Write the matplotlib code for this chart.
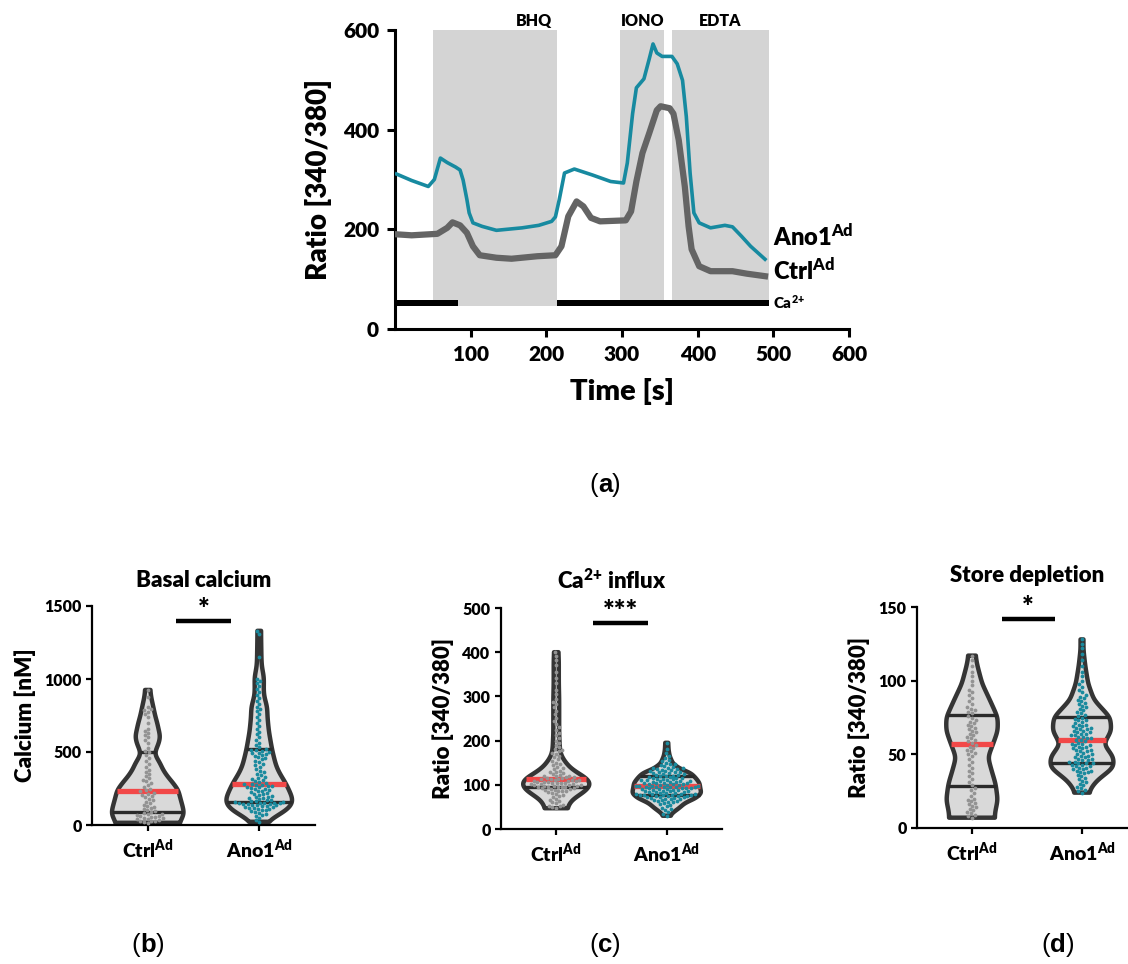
import numpy as np
import matplotlib
matplotlib.use("Agg")
import matplotlib.pyplot as plt

WEIGHT = 'heavy'
plt.rcParams['font.family'] = ['Lato', 'DejaVu Sans']
plt.rcParams['font.weight'] = WEIGHT
plt.rcParams['axes.titleweight'] = WEIGHT
plt.rcParams['axes.labelweight'] = WEIGHT
plt.rcParams['mathtext.default'] = 'regular'

FIG_W, FIG_H = 1128, 964

# ---------------- (a) ratio traces ----------------
time_ano1 = [2, 22, 44, 52, 60, 69, 80, 86, 90, 95, 98, 103, 115, 134, 168, 190, 207, 212,
             217, 224, 237, 261, 285, 302, 307, 314, 319, 329, 336, 341, 346, 353, 366,
             373, 380, 385, 390, 395, 402, 417, 436, 446, 458, 470, 489]
ratio_ano1 = [311, 298, 286, 300, 343, 334, 325, 319, 299, 260, 233, 213, 206, 198, 203, 208,
              216, 225, 259, 313, 321, 309, 296, 293, 333, 432, 484, 502, 542, 572, 554, 547,
              547, 532, 499, 426, 313, 233, 213, 203, 208, 205, 186, 166, 140]
time_ctrl = [2, 22, 56, 69, 76, 86, 95, 103, 112, 134, 154, 188, 212, 220, 229, 240, 249,
             259, 271, 305, 312, 319, 327, 336, 346, 351, 363, 368, 375, 383, 388, 392, 402,
             417, 446, 465, 489]
ratio_ctrl = [190, 188, 191, 203, 214, 208, 193, 166, 148, 143, 141, 146, 148, 166, 226, 256,
              246, 223, 216, 218, 236, 296, 353, 393, 439, 447, 443, 432, 379, 286, 206, 160,
              126, 116, 116, 111, 106]

treatments = ['BHQ', 'IONO', 'EDTA']
treatment_start = [50, 298, 366]
treatment_end = [214, 356, 494]
calcium_start = [2, 214]
calcium_end = [83, 494]

# ---------------- (b)-(d) single-cell values ----------------
groups = ['Ctrl', 'Ano1']

basal_ctrl = [15, 20, 25, 28, 30, 35, 38, 42, 45, 50, 52, 55, 60, 64, 68, 72, 76, 80,
              88, 95, 100, 108, 115, 122, 130, 140, 150, 160, 170, 180, 190, 200, 208, 215, 222, 230,
              240, 250, 262, 275, 288, 300, 310, 320, 335, 350, 365, 380, 400, 420, 440, 460, 480, 498,
              505, 530, 560, 580, 600, 615, 630, 645, 660, 700, 740, 760, 775, 785, 795, 810, 880, 925]
basal_ano1 = [22, 35, 50, 62, 70, 78, 85, 90, 95, 100, 105, 110, 113, 116, 119, 122, 125, 128,
              131, 134, 137, 140, 142, 144, 146, 148, 150, 152, 153, 154,
              157, 160, 163, 166, 170, 174, 178, 182, 186, 190, 195, 200, 205, 210, 215, 220, 225,
              230, 235, 240, 245, 250, 254, 258, 262, 266, 270, 273, 276, 278,
              282, 288, 294, 300, 307, 314, 320, 330, 340, 350, 360, 372, 385, 398, 410, 420, 430,
              440, 450, 458, 465, 472, 478, 484, 490, 496, 502, 508, 512, 516,
              522, 535, 550, 565, 580, 600, 620, 640, 660, 680, 700, 720, 740, 760, 780, 795, 810,
              830, 850, 870, 890, 910, 930, 950, 970, 985, 1000, 1150, 1310, 1330]

influx_ctrl = [47, 49, 51, 53, 55, 58, 60, 63, 66, 69, 72, 75, 77, 79, 81, 83, 85, 86, 87, 88,
               89, 90, 91, 92, 93, 94, 94,
               95, 96, 96, 97, 98, 98, 99, 100, 100, 101, 102, 102, 103, 104, 104, 105, 106, 106,
               107, 108, 108, 109, 110, 110, 111, 112, 112, 113,
               115, 116, 117, 118, 119, 120, 121, 122, 124, 126, 128, 130, 132, 135, 138, 141, 144,
               147, 150, 154, 158, 162, 166, 170, 173, 176, 178,
               181, 185, 190, 195, 200, 206, 212, 218, 224, 230, 238, 245, 252, 260, 268, 275, 282,
               288, 295, 305, 315, 330, 342, 355, 370, 382, 392, 400]
influx_ano1 = [30, 34, 38, 42, 45, 48, 51, 54, 56, 58, 60, 62, 63, 64, 65, 66, 67, 68, 69, 70,
               71, 72, 72, 73, 74, 74, 75, 75, 76, 76, 77, 77,
               78, 79, 79, 80, 80, 81, 82, 82, 83, 84, 84, 85, 86, 86, 87, 88, 88, 89, 90, 90, 91,
               92, 92, 93, 93, 94, 94, 95, 95, 96, 96, 97,
               97, 98, 98, 99, 100, 100, 101, 102, 102, 103, 104, 104, 105, 106, 106, 107, 108, 108,
               109, 110, 110, 111, 112, 113, 114, 115, 116, 116, 117, 118, 119, 120,
               121, 122, 123, 124, 125, 126, 127, 128, 129, 130, 131, 132, 133, 134, 135, 136, 137,
               138, 139, 140, 142, 144, 146, 148, 150, 153, 156, 160, 165, 172, 182, 195]

store_ctrl = [7, 8, 9, 10, 11, 12, 13, 14, 15, 16, 17, 18, 19, 20, 22, 24, 26, 27,
              29, 31, 33, 35, 37, 39, 41, 43, 45, 47, 49, 50, 51, 52, 53, 54, 55, 56,
              58, 59, 60, 61, 62, 63, 64, 65, 66, 67, 68, 69, 70, 71, 72, 73, 75, 76,
              78, 79, 80, 81, 82, 84, 86, 88, 90, 92, 94, 97, 100, 103, 106, 110, 114, 117]
store_ano1 = [24, 25, 26, 27, 28, 29, 30, 31, 32, 33, 34, 35, 36, 37, 38, 38, 39, 39, 40, 40,
              41, 41, 42, 42, 43, 43, 44, 44,
              44, 45, 45, 46, 46, 47, 47, 48, 48, 49, 49, 50, 50, 51, 52, 52, 53, 53, 54, 54, 55,
              55, 56, 56, 57, 57, 58, 59,
              60, 60, 61, 61, 62, 62, 63, 63, 64, 64, 65, 65, 66, 66, 67, 67, 68, 68, 69, 69, 70,
              70, 71, 72, 73, 73, 74, 75,
              76, 77, 78, 79, 80, 81, 82, 83, 84, 85, 86, 87, 88, 89, 90, 92, 94, 96, 98, 100,
              103, 106, 110, 114, 118, 122, 125, 128]

# kernel density profiles (level, relative density) of each group
basal_ctrl_levels = [15, 34, 80, 126, 180, 240, 300, 331, 380, 422, 470, 491, 514, 560, 606,
                     650, 697, 750, 810, 879, 925]
basal_ctrl_density = [0.86, 0.91, 0.99, 0.95, 0.89, 0.83, 0.65, 0.54, 0.41, 0.34, 0.22, 0.19,
                      0.22, 0.30, 0.34, 0.30, 0.26, 0.20, 0.15, 0.09, 0.07]
basal_ano1_levels = [22, 30, 59, 105, 150, 174, 200, 288, 350, 402, 514, 644, 750, 810, 880,
                     925, 1016, 1080, 1130, 1290, 1330]
basal_ano1_density = [0.20, 0.25, 0.45, 0.78, 0.92, 0.92, 0.88, 0.72, 0.56, 0.46, 0.35, 0.26,
                      0.22, 0.22, 0.13, 0.12, 0.13, 0.07, 0.06, 0.05, 0.05]
influx_ctrl_levels = [47, 55, 66, 80, 89, 100, 104, 115, 126, 137, 148, 165, 179, 216, 292,
                      330, 380, 400]
influx_ctrl_density = [0.30, 0.35, 0.42, 0.70, 0.85, 0.95, 0.95, 0.85, 0.60, 0.40, 0.28, 0.14,
                       0.10, 0.08, 0.08, 0.07, 0.07, 0.06]
influx_ano1_levels = [30, 36, 48, 59, 70, 81, 92, 104, 115, 126, 137, 148, 165, 179, 195]
influx_ano1_density = [0.10, 0.15, 0.35, 0.50, 0.80, 0.95, 0.92, 0.90, 0.80, 0.67, 0.35, 0.17,
                       0.08, 0.05, 0.04]
store_ctrl_levels = [7, 10, 19, 30, 39, 48, 57, 66, 75, 87, 98, 111, 117]
store_ctrl_density = [0.63, 0.63, 0.71, 0.65, 0.54, 0.44, 0.58, 0.71, 0.71, 0.49, 0.28, 0.14, 0.10]
store_ano1_levels = [24, 26, 32, 41, 48, 57, 66, 75, 87, 98, 110, 121, 128]
store_ano1_density = [0.20, 0.22, 0.40, 0.87, 0.87, 0.60, 0.81, 0.78, 0.33, 0.17, 0.09, 0.04, 0.04]

# ---------------- styles ----------------
TEAL = '#178aa0'
TRACE_GRAY = '#646464'
SHADE = '#d4d4d4'
VIOLIN_FILL = '#d9d9d9'
VIOLIN_EDGE = '#353535'
MEDIAN_RED = '#f24848'
DOT_COLORS = ['#939393', '#1a8a9e']
HALF_WIDTH = 0.33

fig = plt.figure(figsize=(FIG_W / 100, FIG_H / 100), dpi=100)


def frac_axes(left, top, right, bottom):
    return fig.add_axes([left / FIG_W, 1 - bottom / FIG_H, (right - left) / FIG_W,
                         (bottom - top) / FIG_H])


def panel_label(xc, y, letter, size=18.5):
    t1 = fig.text(xc / FIG_W, 1 - y / FIG_H, '(', fontsize=size, fontweight='normal',
                  family='Liberation Sans', ha='right', va='center')
    t2 = fig.text(xc / FIG_W, 1 - y / FIG_H, letter, fontsize=size, fontweight='bold',
                  family='Liberation Sans', ha='left', va='center')
    fig.canvas.draw()
    w = t2.get_window_extent().width
    t1.set_x((xc - w / 2) / FIG_W)
    t2.set_x((xc - w / 2) / FIG_W)
    fig.text((xc + w / 2) / FIG_W, 1 - y / FIG_H, ')', fontsize=size, fontweight='normal',
             family='Liberation Sans', ha='left', va='center')


# ---------------- panel (a) ----------------
ax = frac_axes(395, 30, 849, 329)
for name, t0, t1 in zip(treatments, treatment_start, treatment_end):
    ax.fill_between([t0, t1], 47, 600, color=SHADE, lw=0, zorder=0)
    ax.text((t0 + t1) / 2 if name != 'BHQ' else t1 - 30, 603, name, fontsize=11.5,
            ha='center', va='bottom', clip_on=False)
for c0, c1 in zip(calcium_start, calcium_end):
    ax.fill_between([c0, c1], 46, 58, color='black', lw=0, zorder=2)
ax.plot(time_ctrl, ratio_ctrl, color=TRACE_GRAY, lw=4.5, solid_joinstyle='round', zorder=3)
ax.plot(time_ano1, ratio_ano1, color=TEAL, lw=2.6, solid_joinstyle='round', zorder=4)
ax.text(500, 168, r'Ano1$^{Ad}$', fontsize=17, ha='left', va='baseline')
ax.text(500, 100, r'Ctrl$^{Ad}$', fontsize=17, ha='left', va='baseline')
ax.text(500, 40, r'Ca$^{2{+}}$', fontsize=11, ha='left', va='baseline')

ax.set_xlim(0, 600)
ax.set_ylim(0, 600)
ax.set_xticks([100, 200, 300, 400, 500, 600])
ax.set_yticks([0, 200, 400, 600])
for s in ['top', 'right']:
    ax.spines[s].set_visible(False)
for s in ['left', 'bottom']:
    ax.spines[s].set_linewidth(2.2)
ax.tick_params(width=2.2, length=5.5, labelsize=15, pad=6)
ax.set_xlabel('Time [s]', fontsize=21, labelpad=10)
ax.set_ylabel('Ratio [340/380]', fontsize=20, labelpad=8)

panel_label(605, 485, 'a')


# ---------------- panels (b)-(d) ----------------
def violin_shape(levels, density, vmin, vmax, n=400):
    y = np.linspace(vmin, vmax, n)
    w = np.interp(y, levels, density)
    k = 9
    kern = np.exp(-0.5 * (np.arange(-3 * k, 3 * k + 1) / k) ** 2)
    kern /= kern.sum()
    w = np.convolve(np.pad(w, 3 * k, mode='edge'), kern, mode='valid')
    return y, w * HALF_WIDTH


def swarm_offsets(ax, values, diam):
    pos = ax.get_position()
    x0, x1 = ax.get_xlim()
    y0, y1 = ax.get_ylim()
    sx = pos.width * FIG_W / (x1 - x0)
    sy = pos.height * FIG_H / (y1 - y0)
    ys = np.asarray(values, float) * sy
    offs = np.zeros(len(ys))
    px_list, py_list = [], []
    for i in np.argsort(ys, kind='stable'):
        y = ys[i]
        neigh = [(px, py) for px, py in zip(px_list, py_list) if abs(py - y) < diam]
        cands = [0.0]
        for px, py in neigh:
            dx = np.sqrt(diam ** 2 - (py - y) ** 2)
            cands += [px + dx, px - dx]
        cands.sort(key=lambda c: (abs(c), c))
        chosen = cands[-1]
        for c in cands:
            if all((c - px) ** 2 + (y - py) ** 2 >= diam ** 2 - 1e-6 for px, py in neigh):
                chosen = c
                break
        offs[i] = chosen
        px_list.append(chosen)
        py_list.append(y)
    return offs / sx


def violin_panel(box, title, ylabel, ymax, yticks, data, profiles, bar_x, bar_y, stars,
                 title_pad):
    ax = frac_axes(*box)
    ax.set_xlim(-0.5, 1.5)
    ax.set_ylim(0, ymax)
    for i, (vals, (lev, dens)) in enumerate(zip(data, profiles)):
        vals = np.asarray(vals, float)
        y, w = violin_shape(lev, dens, vals.min(), vals.max())
        xs = np.concatenate([i + w, (i - w)[::-1]])
        ys = np.concatenate([y, y[::-1]])
        ax.fill(xs, ys, facecolor=VIOLIN_FILL, edgecolor=VIOLIN_EDGE, lw=3.2,
                joinstyle='round', zorder=2)
        q1, med, q3 = np.percentile(vals, [25, 50, 75])
        for q, col, lw in [(q1, '#2a2a2a', 2.4), (q3, '#2a2a2a', 2.4), (med, MEDIAN_RED, 3.8)]:
            hw = np.interp(q, y, w)
            ax.plot([i - hw, i + hw], [q, q], color=col, lw=lw, solid_capstyle='butt', zorder=3)
        dx = swarm_offsets(ax, vals, 3.9)
        ax.scatter(i + dx, vals, s=7.5, color=DOT_COLORS[i], lw=0, zorder=4)
    ax.plot(bar_x, [bar_y, bar_y], color='black', lw=3.2, solid_capstyle='butt',
            clip_on=False, zorder=5)
    ax.text(np.mean(bar_x), bar_y - ymax * 0.01, stars, fontsize=20, ha='center',
            va='bottom', clip_on=False)
    ax.set_xticks([0, 1])
    ax.set_xticklabels([g + r'$^{Ad}$' for g in groups], fontsize=14)
    ax.set_yticks(yticks)
    for s in ['top', 'right']:
        ax.spines[s].set_visible(False)
    for s in ['left', 'bottom']:
        ax.spines[s].set_linewidth(1.6)
    ax.tick_params(axis='y', width=1.6, length=4.5, labelsize=11.5, pad=3)
    ax.tick_params(axis='x', width=1.6, length=4.5, pad=5)
    ax.set_ylabel(ylabel, fontsize=16, labelpad=6)
    ax.set_title(title, fontsize=16, pad=title_pad)
    return ax


violin_panel((92, 606, 315, 825), 'Basal calcium', 'Calcium [nM]', 1500,
             [0, 500, 1000, 1500], [basal_ctrl, basal_ano1],
             [(basal_ctrl_levels, basal_ctrl_density), (basal_ano1_levels, basal_ano1_density)],
             [0.25, 0.75], 1397, '*', 14)
violin_panel((501, 608, 722, 829), r'Ca$^{2{+}}$ influx', 'Ratio [340/380]', 500,
             [0, 100, 200, 300, 400, 500], [influx_ctrl, influx_ano1],
             [(influx_ctrl_levels, influx_ctrl_density), (influx_ano1_levels, influx_ano1_density)],
             [0.33, 0.83], 466, '***', 14)
violin_panel((917, 607, 1137, 828), 'Store depletion', 'Ratio [340/380]', 150,
             [0, 50, 100, 150], [store_ctrl, store_ano1],
             [(store_ctrl_levels, store_ctrl_density), (store_ano1_levels, store_ano1_density)],
             [0.27, 0.75], 142, '*', 18)

panel_label(148, 945, 'b')
panel_label(605, 945, 'c')
panel_label(1058, 945, 'd')

fig.savefig('out.png', dpi=100)
